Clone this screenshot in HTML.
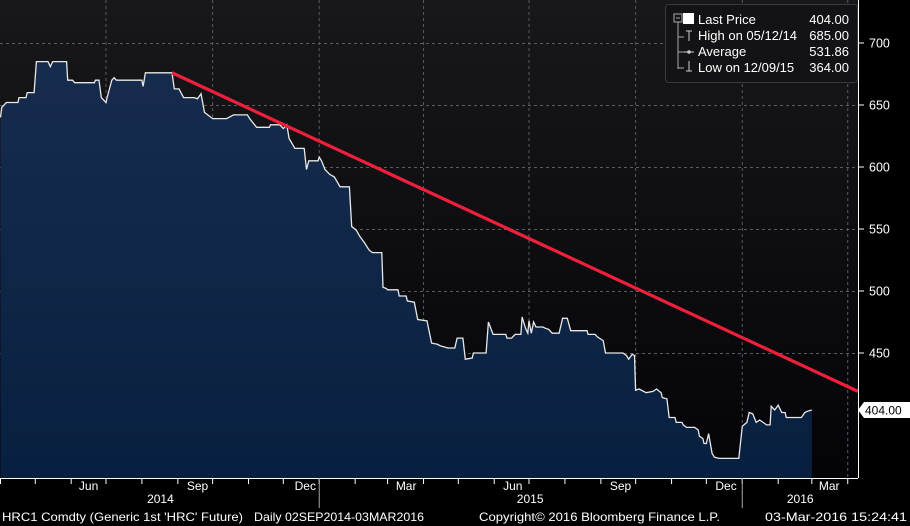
<!DOCTYPE html>
<html><head><meta charset="utf-8"><style>
html,body{margin:0;padding:0;background:#000;}
svg{display:block;font-family:"Liberation Sans",Arial,sans-serif;}
</style></head><body>
<svg id="chart" width="910" height="526" viewBox="0 0 910 526">
<defs>
<linearGradient id="bg" x1="0" y1="0" x2="0" y2="1"><stop offset="0" stop-color="#18181b"/><stop offset="1" stop-color="#040408"/></linearGradient>
<linearGradient id="fill" x1="0" y1="0" x2="0" y2="1"><stop offset="0" stop-color="#172c4d"/><stop offset="1" stop-color="#08203f"/></linearGradient>
</defs>
<rect x="0" y="0" width="858" height="478" fill="url(#bg)"/>
<g id="grid"></g>
<path id="area" fill="url(#fill)"/>
<path id="line" fill="none" stroke="#e8e8e8" stroke-width="1.3"/>
<line id="trend" stroke="#f0203c" stroke-width="3.2"/>
<line x1="858.5" y1="0" x2="858.5" y2="478" stroke="#fff" stroke-width="1"/>
<line x1="0" y1="478.5" x2="858" y2="478.5" stroke="#fff" stroke-width="1"/>
<g id="yaxis"></g>
<g id="xaxis"></g>
<g>
<path id="lastTag" fill="#fff"/>
<text id="lastText" x="865" font-size="12" fill="#000">404.00</text>
</g>
<g>
<rect x="665.5" y="4.5" width="192" height="78" rx="3" fill="#131316" stroke="#3a3a3e"/>
<path d="M678 22 V69 M678 37 H684 M678 52 H684 M678 68 H684" stroke="#aaa" fill="none"/>
<rect x="674" y="14" width="8" height="8" fill="none" stroke="#aaa"/>
<line x1="676" y1="18" x2="680" y2="18" stroke="#aaa"/>
<rect x="683" y="13" width="11" height="11" fill="#fff"/>
<path d="M686 31 H692 M689 31 V41" stroke="#ccc"/>
<path d="M684 52 H694" stroke="#ccc"/><circle cx="689" cy="52" r="1.8" fill="#ccc"/>
<path d="M686 71 H692 M689 61 V71" stroke="#ccc"/>
<g font-size="13" fill="#fff">
<text x="698" y="24">Last Price</text>
<text x="849" y="24" text-anchor="end">404.00</text>
<text x="698" y="40">High on 05/12/14</text>
<text x="849" y="40" text-anchor="end">685.00</text>
<text x="698" y="56">Average</text>
<text x="849" y="56" text-anchor="end">531.86</text>
<text x="698" y="72">Low on 12/09/15</text>
<text x="849" y="72" text-anchor="end">364.00</text>
</g></g>
<g font-size="12" fill="#fff">
<text x="2" y="521" textLength="241" lengthAdjust="spacingAndGlyphs">HRC1 Comdty (Generic 1st 'HRC' Future)</text>
<text x="254" y="521" textLength="170" lengthAdjust="spacingAndGlyphs">Daily 02SEP2014-03MAR2016</text>
<text x="479" y="521" textLength="241" lengthAdjust="spacingAndGlyphs">Copyright© 2016 Bloomberg Finance L.P.</text>
<text x="765" y="521" textLength="142" lengthAdjust="spacingAndGlyphs">03-Mar-2016 15:24:41</text>
</g>
</svg>
<script>
// days since 2014-04-01
const days = [0,1,5,15,16,22,23,29,31,41,43,45,57,58,62,64,81,82,85,87,91,92,96,98,100,122,123,125,148,150,154,158,167,170,173,176,183,195,197,201,213,215,221,232,233,241,244,247,249,254,262,264,266,274,275,277,280,284,288,293,301,303,307,310,314,318,321,329,330,333,334,343,344,350,351,357,360,368,372,377,379,386,392,394,399,401,407,408,419,421,425,436,437,441,444,449,450,453,455,456,458,460,462,468,470,473,476,482,485,489,492,506,507,513,515,520,522,537,540,542,545,547,548,551,557,563,566,570,571,575,577,582,583,588,589,592,599,602,603,606,607,609,611,614,616,620,637,640,644,646,649,652,655,658,661,664,665,668,671,674,677,678,683,687,691,694,696,700];
const prices = [640,648,652,652,656,656,660,660,685,685,681,685,685,670,670,668,668,670,670,656,652,656,670,672,670,670,665,676,676,663,663,656,656,655,659,644,639,639,640,642,642,639,632,632,634,634,631,634,623,615,615,598,605,605,608,605,598,594,592,584,584,552,549,544,539,533,531,531,503,502,501,501,496,496,492,491,477,476,458,457,456,454,454,462,462,445,446,450,450,475,465,465,462,462,465,465,479,470,466,476,466,475,471,471,470,469,466,466,478,478,468,468,465,465,463,460,450,450,448,445,449,448,420,421,418,419,421,418,414,413,398,398,394,394,392,390,390,388,383,381,377,377,385,369,366,365,365,391,394,402,401,394,396,394,392,392,407,404,408,402,402,398,398,398,398,402,403,404];
const yTicks = [450,500,550,600,650,700];
const yTickLabels = ["450","500","550","600","650","700"];
const gridDays = [91,183,275,365,456,548,640,731];
const monthDays = [0,30,61,91,122,153,183,214,244,275,306,334,365,395,426,456,487,518,548,579,609,640,671,700,731];
const monthLabels = ["Jun","Sep","Dec","Mar","Jun","Sep","Dec","Mar"];
const monthLabelDays = [76,170,263,350,442,535,626,715];
const yearLabels = ["2014","2015","2016"];
const yearLabelDays = [138,457,690];
const yearDividerDays = [275,640];
const trendStart = [148,676];
const trendEnd = [740,419];
const lastPrice = 404;

const X = d => 0.5 + d * 1.159;
const Y = v => 43 + (700 - v) * 1.24;
const NS = "http://www.w3.org/2000/svg";
function mk(tag, attrs, parent){const e=document.createElementNS(NS,tag);for(const k in attrs)e.setAttribute(k,attrs[k]);parent.appendChild(e);return e;}

const grid = document.getElementById('grid');
yTicks.forEach(v=>{
  const l = mk('line',{x1:0,x2:858,y1:Y(v)+0.5,y2:Y(v)+0.5,stroke:'#5a5a60','stroke-dasharray':'3,3','stroke-width':1},grid);
  
  
});
gridDays.forEach(d=>{
  const l = mk('line',{x1:X(d),x2:X(d),y1:0,y2:478,stroke:'#5a5a60','stroke-dasharray':'3,3','stroke-width':1},grid);
  
  
});

let p = '';
days.forEach((d,i)=>{ p += (i?'L':'M') + X(d).toFixed(1) + ' ' + Y(prices[i]).toFixed(1); });
document.getElementById('line').setAttribute('d', p);
document.getElementById('area').setAttribute('d', p + 'L' + X(days[days.length-1]).toFixed(1) + ' 478 L' + X(days[0]).toFixed(1) + ' 478 Z');

const tr = document.getElementById('trend');
const slope = (trendEnd[1]-trendStart[1])/(trendEnd[0]-trendStart[0]);
const endD = (858 - 0.5)/1.159;
tr.setAttribute('x1', X(trendStart[0])); tr.setAttribute('y1', Y(trendStart[1]));
tr.setAttribute('x2', X(endD)); tr.setAttribute('y2', Y(trendStart[1] + slope*(endD-trendStart[0])));

const ya = document.getElementById('yaxis');
yTicks.forEach((v,i)=>{
  const t = mk('line',{x1:858,x2:864,y1:Y(v),y2:Y(v),stroke:'#fff'},ya);
  
  
  const tx = mk('text',{x:869,y:Y(v)+4.5,'font-size':12.5,fill:'#fff'},ya);
  tx.textContent = yTickLabels[i];
  
  
});
const xa = document.getElementById('xaxis');
monthDays.forEach(d=>{
  const t = mk('line',{x1:X(d),x2:X(d),y1:478,y2:484,stroke:'#fff'},xa);
  
  
});
monthLabels.forEach((m,i)=>{
  const t = mk('text',{x:X(monthLabelDays[i]),y:490,'font-size':12,fill:'#fff','text-anchor':'middle'},xa);
  t.textContent = m;
  
  
});
yearLabels.forEach((m,i)=>{
  const t = mk('text',{x:X(yearLabelDays[i]),y:503,'font-size':12,fill:'#fff','text-anchor':'middle'},xa);
  t.textContent = m;
  
  
});
yearDividerDays.forEach(d=>{
  const l = mk('line',{x1:X(d),x2:X(d),y1:478,y2:508,stroke:'#aaa'},xa);
  
  
});
const ly = Y(lastPrice);
document.getElementById('lastTag').setAttribute('d',`M858 ${ly} L864 ${ly-8} H910 V${ly+8} H864 Z`);
document.getElementById('lastText').setAttribute('y', ly+4.5);
</script>
</body></html>
